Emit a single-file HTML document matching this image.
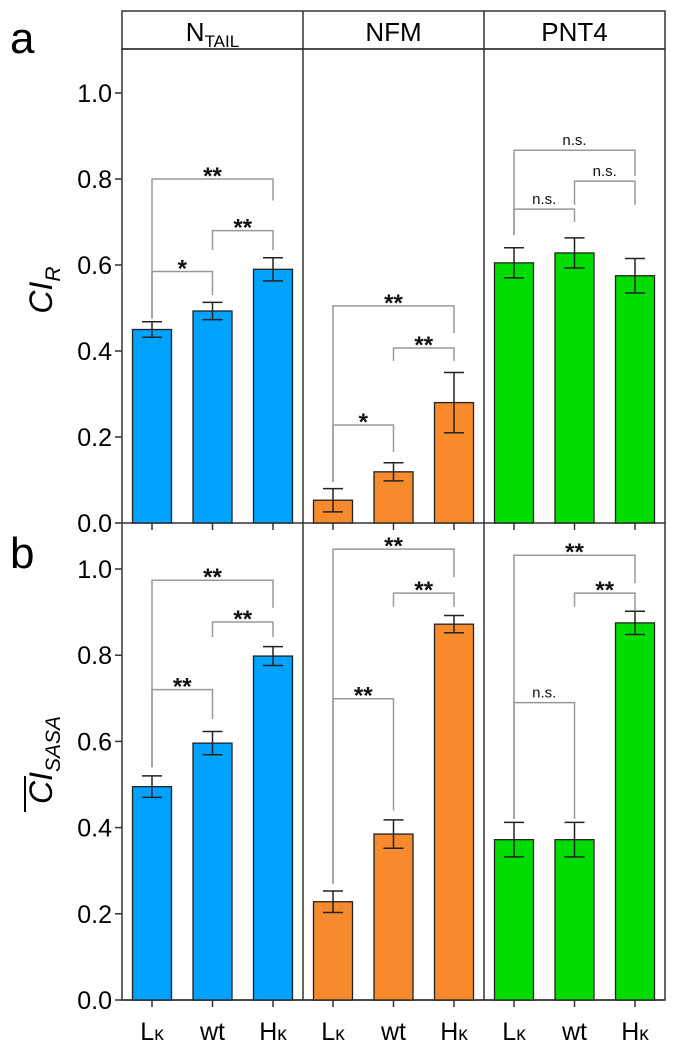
<!DOCTYPE html>
<html><head><meta charset="utf-8">
<style>
html,body{margin:0;padding:0;background:#fff;}
svg{display:block;font-family:"Liberation Sans",Arial,sans-serif;}
</style></head>
<body>
<svg id="chart" width="674" height="1059" viewBox="0 0 674 1059" xmlns="http://www.w3.org/2000/svg">
  <g id="frame"></g>
  <g id="marks"></g>
  <text x="10" y="53" font-size="44">a</text>
  <text x="10" y="568" font-size="44">b</text>
  <text transform="translate(52,290) rotate(-90)" text-anchor="middle" font-size="32" font-style="italic">CI<tspan font-size="21" dy="8">R</tspan></text>
  <g transform="translate(52,760) rotate(-90)">
    <text text-anchor="middle" font-size="32" font-style="italic">CI<tspan font-size="21" dy="8">SASA</tspan></text>
    <line x1="-52" y1="-27" x2="-16" y2="-27" stroke="#000" stroke-width="2"/>
  </g>
</svg>
<script>
const groups = ["NTAIL","NFM","PNT4"];
const categories = ["L\u03ba","wt","H\u03ba"];
const colors = ["#00a2ff","#f78a2c","#00dc00"];
const valuesA = [[0.45,0.493,0.59],[0.053,0.119,0.28],[0.605,0.628,0.575]];
const errorsA = [[0.018,0.02,0.027],[0.027,0.021,0.07],[0.035,0.035,0.04]];
const valuesB = [[0.495,0.596,0.798],[0.228,0.385,0.872],[0.372,0.372,0.875]];
const errorsB = [[0.025,0.027,0.022],[0.025,0.033,0.02],[0.04,0.04,0.027]];
const yTicks = [0.0,0.2,0.4,0.6,0.8,1.0];
const yTickLabels = ["0.0","0.2","0.4","0.6","0.8","1.0"];
// brackets: [group, fromIdx, toIdx, top, leftBottom, rightBottom, label]
const bracketsA = [
 [0,0,2,0.80,0.475,0.75,"**"],[0,0,1,0.585,0.475,0.53,"*"],[0,1,2,0.68,0.635,0.635,"**"],
 [1,0,2,0.505,0.095,0.442,"**"],[1,0,1,0.228,0.095,0.165,"*"],[1,1,2,0.407,0.377,0.377,"**"],
 [2,0,2,0.867,0.67,0.807,"n.s."],[2,0,1,0.73,0.67,0.70,"n.s."],[2,1,2,0.795,0.74,0.74,"n.s."]];
const bracketsB = [
 [0,0,2,0.974,0.54,0.91,"**"],[0,0,1,0.72,0.54,0.652,"**"],[0,1,2,0.877,0.842,0.842,"**"],
 [1,0,2,1.046,0.27,0.981,"**"],[1,0,1,0.699,0.27,0.44,"**"],[1,1,2,0.944,0.912,0.912,"**"],
 [2,0,2,1.032,0.42,0.967,"**"],[2,0,1,0.69,0.42,0.42,"n.s."],[2,1,2,0.944,0.912,0.905,"**"]];

const NS="http://www.w3.org/2000/svg";
const L=122,R=665,divs=[303,484];
const panels=[{y0:523,scale:430,top:49,vals:valuesA,errs:errorsA,br:bracketsA,name:"a"},
              {y0:1000,scale:431,top:523,vals:valuesB,errs:errorsB,br:bracketsB,name:"b"}];
const frame=document.getElementById('frame'),marks=document.getElementById('marks');
function el(tag,attrs,parent,text){const e=document.createElementNS(NS,tag);for(const k in attrs)e.setAttribute(k,attrs[k]);if(text!==undefined)e.textContent=text;parent.appendChild(e);return e;}
function xC(g,i){return L+30+g*181+i*60.5;}
const BW=39;

let hdr=el('rect',{x:L,y:11,width:R-L,height:38,fill:'none',stroke:'#333','stroke-width':1.5},frame);

const hx=[L,303,484,R];
groups.forEach((g,gi)=>{
  const cx=(hx[gi]+hx[gi+1])/2;
  const t=el('text',{x:cx,y:41,'text-anchor':'middle','font-size':26},frame);
  
  
  if(g==="NTAIL"){t.textContent="N";el('tspan',{'font-size':17,dy:6},t,"TAIL");}else t.textContent=g;
});
divs.forEach(x=>{const d=el('line',{x1:x,y1:11,x2:x,y2:1000,stroke:'#333','stroke-width':1.5},frame);
  });
const box=el('rect',{x:L,y:49,width:R-L,height:951,fill:'none',stroke:'#333','stroke-width':1.5},frame);


panels.forEach(p=>{
  const Y=v=>p.y0-v*p.scale;
  const base=el('line',{x1:L,y1:p.y0,x2:R,y2:p.y0,stroke:'#333','stroke-width':1.5},frame);
  
  yTicks.forEach((v,i)=>{
    const tk=el('line',{x1:L-7,y1:Y(v),x2:L,y2:Y(v),stroke:'#333','stroke-width':1.5},frame);
    
    const tl=el('text',{x:L-10,y:Y(v)+9,'text-anchor':'end','font-size':25},frame,yTickLabels[i]);
    
  });
  for(let g=0;g<3;g++)for(let i=0;i<3;i++){
    const cx=xC(g,i);
    const xt=el('line',{x1:cx,y1:p.y0,x2:cx,y2:p.y0+7,stroke:'#333','stroke-width':1.5},frame);
    
    const v=p.vals[g][i],e=p.errs[g][i];
    const b=el('rect',{x:cx-BW/2,y:Y(v),width:BW,height:p.y0-Y(v),fill:colors[g],stroke:'#222','stroke-width':1.3},marks);
    
    
    const eg=el('g',{stroke:'#222','stroke-width':1.5},marks);
    
    el('line',{x1:cx,y1:Y(v+e),x2:cx,y2:Y(v-e)},eg);
    el('line',{x1:cx-10,y1:Y(v+e),x2:cx+10,y2:Y(v+e)},eg);
    el('line',{x1:cx-10,y1:Y(v-e),x2:cx+10,y2:Y(v-e)},eg);
  }
  p.br.forEach(b=>{
    const [g,a,c,top,lb,rb,lab]=b;
    const x1=xC(g,a),x2=xC(g,c);
    const pl=el('polyline',{points:`${x1},${Y(lb)} ${x1},${Y(top)} ${x2},${Y(top)} ${x2},${Y(rb)}`,fill:'none',stroke:'#999','stroke-width':1.5},marks);
    
    const star=lab!=="n.s.";
    const t=el('text',{x:(x1+x2)/2,y:Y(top)-(star?-5:5),'text-anchor':'middle','font-size':star?24:15,'font-weight':star?'bold':'normal',fill:'#111'},marks,lab);
    
  });
});
for(let g=0;g<3;g++)for(let i=0;i<3;i++){
  const t=el('text',{x:xC(g,i),y:1040,'text-anchor':'middle','font-size':25},frame);
  
  const c=categories[i];
  if(c==="wt")t.textContent=c;else{t.textContent=c[0];el('tspan',{'font-size':19},t,c[1]);}
}
</script>
</body></html>
